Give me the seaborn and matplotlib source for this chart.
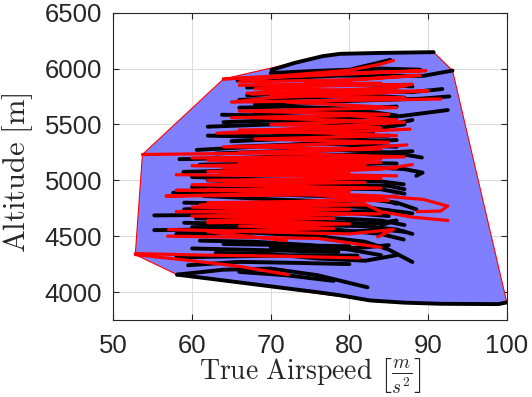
import numpy as np
import pandas as pd
import matplotlib
matplotlib.use("Agg")
import matplotlib.pyplot as plt
import seaborn as sns

# ---- flight tracks: (true airspeed [m/s], altitude [m]) ----
blk_01 = [(70.1, 5988), (73.0, 6050), (76.6, 6111), (78.8, 6132), (84.0, 6140), (90.7, 6147)]
blk_02 = [(80.4, 5997), (83.0, 6040), (85.2, 6078)]
blk_03 = [(65.8, 5892), (72.0, 5915), (78.7, 5937), (85.0, 5935), (89.4, 5935), (93.1, 5982)]
blk_04 = [(67.0, 5760), (75.0, 5790), (82.0, 5800), (88.0, 5790), (91.8, 5817)]
blk_05 = [(68.0, 5680), (76.0, 5700), (84.0, 5720), (89.0, 5730), (92.7, 5751)]
blk_06 = [(63.8, 5587), (70.0, 5580), (78.0, 5560), (86.0, 5570), (92.5, 5629)]
blk_07 = [(63.2, 5413), (70.0, 5430), (78.0, 5450), (84.0, 5470), (87.0, 5500)]
blk_08 = [(60.6, 5272), (68.0, 5300), (76.0, 5330), (82.0, 5310), (86.0, 5300)]
blk_09 = [(58.4, 5189), (66.0, 5200), (74.0, 5220), (82.0, 5230), (87.0, 5230), (89.2, 5204)]
blk_10 = [(58.9, 5075), (66.0, 5090), (74.0, 5110), (82.0, 5120), (87.0, 5100), (89.3, 5069), (88.5, 5040)]
blk_11 = [(60.0, 5030), (68.0, 5010), (76.0, 5000), (84.0, 4990), (86.9, 4964)]
blk_12 = [(57.6, 4889), (64.0, 4880), (72.0, 4870), (80.0, 4850), (86.0, 4800), (88.5, 4740)]
blk_13 = [(59.0, 4800), (66.0, 4790), (74.0, 4780), (82.0, 4760), (88.0, 4704)]
blk_14 = [(55.2, 4686), (62.0, 4690), (70.0, 4680), (78.0, 4660), (84.0, 4640), (87.0, 4600)]
blk_15 = [(59.0, 4620), (66.0, 4610), (74.0, 4600), (82.0, 4590), (86.0, 4560), (88.0, 4520)]
blk_16 = [(55.2, 4554), (62.0, 4560), (70.0, 4570), (78.0, 4560), (84.0, 4520), (86.9, 4470)]
blk_17 = [(58.0, 4520), (68.0, 4530), (76.0, 4500), (82.0, 4450), (85.0, 4380), (88.0, 4269)]
blk_18 = [(60.0, 4390), (66.0, 4380), (72.0, 4370), (78.6, 4359)]
blk_19 = [(58.0, 4310), (66.0, 4320), (74.0, 4330), (81.0, 4326)]
blk_20 = [(58.1, 4156), (64.0, 4200), (70.0, 4210), (76.0, 4150), (82.3, 4042)]
blk_21 = [(58.1, 4156), (64.0, 4104), (70.1, 4050), (76.0, 3998), (78.7, 3972), (82.6, 3925),
          (87.0, 3905), (91.6, 3895), (98.9, 3892), (100.0, 3907)]
blk_22 = [(62.0, 5480), (70.0, 5500), (78.0, 5510), (84.0, 5490)]
blk_23 = [(65.0, 5350), (72.0, 5370), (80.0, 5380), (85.0, 5400)]
blk_24 = [(61.0, 5140), (70.0, 5150), (78.0, 5160), (86.0, 5150)]
blk_25 = [(60.0, 4940), (68.0, 4950), (76.0, 4930), (84.0, 4920), (87.0, 4880)]
blk_26 = [(66.0, 5650), (72.0, 5660), (80.0, 5640), (86.0, 5660)]
blk_27 = [(67.0, 5830), (74.0, 5850), (82.0, 5860), (88.0, 5840)]
blk_28 = [(62.0, 4730), (70.0, 4740), (78.0, 4720), (85.0, 4680)]
blk_29 = [(64.0, 4430), (72.0, 4420), (80.0, 4410)]
blk_30 = [(59.5, 4240), (66.0, 4270), (74.0, 4260), (80.0, 4250)]
blk_31 = [(66.0, 4180), (72.0, 4150), (78.0, 4100)]
blk_32 = [(61.0, 4460), (68.0, 4450), (75.0, 4420), (80.0, 4380), (84.0, 4330)]
blk_33 = [(63.0, 4350), (70.0, 4340), (76.0, 4300), (82.0, 4280), (86.0, 4330)]
blk_34 = [(60.5, 4660), (68.0, 4650), (76.0, 4630), (83.0, 4610), (86.0, 4640), (84.0, 4600)]
blk_35 = [(61.5, 4860), (70.0, 4830), (78.0, 4810), (84.0, 4830), (86.0, 4790)]
blk_36 = [(62.0, 5000), (70.0, 4980), (78.0, 4960), (85.0, 4950), (87.0, 4920)]
blk_37 = [(63.0, 5240), (71.0, 5260), (79.0, 5270), (85.0, 5250), (88.0, 5260)]
blk_38 = [(64.0, 5520), (72.0, 5540), (80.0, 5530), (86.0, 5510), (88.0, 5540)]
blk_39 = [(66.0, 5720), (74.0, 5740), (82.0, 5760), (87.0, 5740)]
blk_40 = [(70.0, 5960), (76.0, 5980), (84.0, 6000), (89.0, 5990)]
blk_41 = [(68.0, 5600), (75.0, 5620), (83.0, 5610), (86.0, 5580), (84.0, 5560)]
blk_42 = [(65.0, 5300), (73.0, 5320), (80.0, 5350), (86.0, 5360)]
blk_43 = [(59.0, 4740), (66.0, 4760), (74.0, 4750), (80.0, 4720), (85.0, 4730)]
blk_44 = [(60.0, 4580), (66.0, 4590), (72.0, 4560), (78.0, 4530), (84.0, 4560), (87.0, 4540)]
blk_45 = [(70.0, 4400), (76.0, 4380), (82.0, 4400), (85.0, 4420)]
blk_46 = [(62.0, 5400), (68.0, 5390), (76.0, 5410), (83.0, 5430)]

red_01 = [(53.7, 5231), (65.0, 5240), (76.0, 5260), (87.3, 5317)]
red_02 = [(64.0, 5907), (72.0, 5930), (80.0, 5960), (89.7, 5982), (70.0, 5920), (66.0, 5880),
          (80.0, 5900), (89.0, 5940), (75.0, 5870), (67.5, 5772), (80.0, 5790), (90.0, 5800),
          (70.0, 5740), (65.0, 5700), (85.0, 5720), (91.6, 5728)]
red_03 = [(64.0, 5907), (72.0, 5940), (80.0, 5985), (84.0, 6040), (85.6, 6072)]
red_04 = [(66.0, 5850), (84.0, 5870), (68.0, 5820), (86.0, 5800), (70.0, 5760), (87.0, 5740),
          (72.0, 5700), (86.0, 5650), (66.0, 5620), (85.0, 5590), (68.0, 5560), (87.0, 5520),
          (63.2, 5422), (82.0, 5440), (87.7, 5458)]
red_05 = [(65.0, 5560), (80.0, 5580), (86.0, 5540), (70.0, 5500), (84.0, 5470), (66.0, 5450),
          (86.0, 5400), (68.0, 5370), (85.0, 5340), (64.0, 5300), (84.0, 5280), (66.0, 5250),
          (87.0, 5210), (62.0, 5180), (84.0, 5160), (60.0, 5130), (86.0, 5110), (62.0, 5080),
          (80.0, 5060)]
red_06 = [(58.0, 5050), (75.0, 5040), (84.0, 5020), (62.0, 5000), (82.0, 4980), (60.0, 4960),
          (84.0, 4930), (58.0, 4910), (80.0, 4900), (56.7, 4859), (75.0, 4870), (85.0, 4820),
          (62.0, 4800), (82.0, 4780), (60.0, 4760), (80.0, 4740), (58.0, 4720), (84.0, 4700),
          (60.0, 4680), (78.0, 4660), (62.0, 4640), (74.0, 4600)]
red_07 = [(62.0, 4920), (76.5, 4880), (84.0, 4860), (89.4, 4829), (92.5, 4769), (91.6, 4725),
          (88.6, 4719)]
red_08 = [(64.0, 4990), (74.4, 4950), (80.0, 4850), (84.0, 4720), (88.0, 4670), (92.5, 4641)]
red_09 = [(57.0, 4560), (68.0, 4540), (80.0, 4520), (85.6, 4560), (83.6, 4494)]
red_10 = [(52.8, 4344), (62.0, 4330), (72.0, 4320), (81.3, 4305)]
red_11 = [(52.8, 4335), (60.0, 4280), (66.0, 4230), (72.2, 4156)]
red_12 = [(56.9, 4500), (66.0, 4490), (76.0, 4480), (84.0, 4400)]
red_13 = [(60.0, 5200), (72.0, 5210), (84.0, 5190), (66.0, 5160), (82.0, 5140), (64.0, 5110),
          (80.0, 5090), (70.0, 5060), (86.0, 5040)]
red_14 = [(62.0, 4620), (72.0, 4630), (80.0, 4610), (66.0, 4590), (78.0, 4570), (62.0, 4540),
          (72.0, 4460)]
red_15 = [(67.0, 5780), (76.0, 5800), (86.0, 5830), (88.0, 5860), (74.0, 5840), (68.0, 5860)]
red_16 = [(63.5, 5050), (74.0, 5070), (84.0, 5100), (88.0, 5140)]
red_17 = [(61.0, 4780), (70.0, 4800), (80.0, 4830), (86.0, 4860)]

black_tracks = [blk_01, blk_02, blk_03, blk_04, blk_05, blk_06, blk_07, blk_08, blk_09, blk_10,
                blk_11, blk_12, blk_13, blk_14, blk_15, blk_16, blk_17, blk_18, blk_19, blk_20,
                blk_21, blk_22, blk_23, blk_24, blk_25, blk_26, blk_27, blk_28, blk_29, blk_30,
                blk_31, blk_32, blk_33, blk_34, blk_35, blk_36, blk_37, blk_38, blk_39, blk_40,
                blk_41, blk_42, blk_43, blk_44, blk_45, blk_46]
red_tracks = [red_01, red_02, red_03, red_04, red_05, red_06, red_07, red_08, red_09, red_10,
              red_11, red_12, red_13, red_14, red_15, red_16, red_17]

x_ticks = [50, 60, 70, 80, 90, 100]
y_ticks = [4000, 4500, 5000, 5500, 6000, 6500]


def to_frame(tracks):
    rows = []
    for k, tr in enumerate(tracks):
        for i, (v, h) in enumerate(tr):
            rows.append({"track": k, "step": i, "tas": v, "alt": h})
    return pd.DataFrame(rows)


def convex_hull(points):
    pts = sorted(set(points))

    def cross(o, a, b):
        return (a[0] - o[0]) * (b[1] - o[1]) - (a[1] - o[1]) * (b[0] - o[0])

    lower, upper = [], []
    for p in pts:
        while len(lower) >= 2 and cross(lower[-2], lower[-1], p) <= 0:
            lower.pop()
        lower.append(p)
    for p in reversed(pts):
        while len(upper) >= 2 and cross(upper[-2], upper[-1], p) <= 0:
            upper.pop()
        upper.append(p)
    return lower[:-1] + upper[:-1]


df_black = to_frame(black_tracks)
df_red = to_frame(red_tracks)

sns.set_style("ticks")
plt.rcParams["font.family"] = ["Liberation Sans", "DejaVu Sans"]
plt.rcParams["mathtext.fontset"] = "cm"

fig = plt.figure(figsize=(5.32, 3.97), dpi=100)
ax = fig.add_axes([0.213, 0.194, 0.7397, 0.774])

# envelope of all recorded points
all_pts = [p for tr in black_tracks + red_tracks for p in tr]
hull = np.array(convex_hull(all_pts))
ax.fill(hull[:, 0], hull[:, 1], facecolor=(0.5, 0.5, 1.0), edgecolor="red", linewidth=0.8, zorder=2)

sns.lineplot(data=df_black, x="tas", y="alt", units="track", estimator=None, sort=False,
             color="black", linewidth=2.8, ax=ax, zorder=3)
sns.lineplot(data=df_red, x="tas", y="alt", units="track", estimator=None, sort=False,
             color="red", linewidth=2.3, ax=ax, zorder=4)

ax.set_xlim(50, 100)
ax.set_ylim(3750, 6500)
ax.set_xticks(x_ticks)
ax.set_yticks(y_ticks)
ax.grid(True, color="#dcdcdc", linewidth=0.8, zorder=0)
ax.set_axisbelow(True)
ax.tick_params(direction="in", length=4, width=0.8, colors="#262626", labelsize=18.5,
               top=True, right=True, labeltop=False, labelright=False)
ax.tick_params(axis="x", pad=10)
ax.tick_params(axis="y", pad=8)
for s in ax.spines.values():
    s.set_color("#262626")
    s.set_linewidth(0.8)

ax.set_xlabel(r"$\mathrm{True\ Airspeed}\ \left[\frac{m}{s^2}\right]$", fontsize=20,
              color="#262626")
ax.xaxis.set_label_coords(0.5, -0.118)
ax.xaxis.label.set_verticalalignment("top")
ax.set_ylabel(r"$\mathrm{Altitude}\ [\mathrm{m}]$", fontsize=22, color="#262626")
ax.yaxis.set_label_coords(-0.198, 0.48)

fig.savefig("out.png", dpi=100)
